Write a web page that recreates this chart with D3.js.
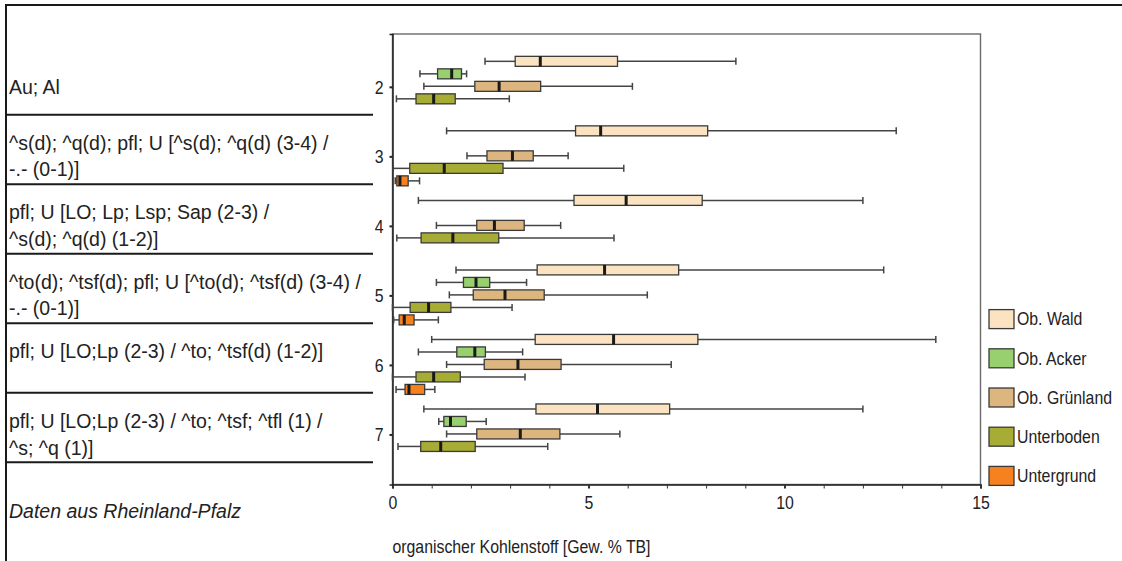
<!DOCTYPE html>
<html>
<head>
<meta charset="utf-8">
<script src="https://cdn.jsdelivr.net/npm/d3@7"></script>
<style>
  body { margin: 0; background: #fff; }
  svg { display: block; }
  text { font-family: "Liberation Sans", Arial, sans-serif; fill: #222; }
</style>
</head>
<body>
<svg id="chart" width="1122" height="561"></svg>
<script>
// Soil groups (rows) and land-use / horizon series
const categories = [2, 3, 4, 5, 6, 7];
const seriesNames = ["Ob. Wald", "Ob. Acker", "Ob. Grünland", "Unterboden", "Untergrund"];
const seriesColors = ["#fbe3c2", "#98cf6f", "#ddb57f", "#a7ac35", "#f5821f"];

// Five-number summaries per group: [min, Q1, median, Q3, max], null = no data
const waldStats = [
  [2.36, 3.13, 3.77, 5.74, 8.76],
  [1.38, 4.67, 5.31, 8.04, 12.85],
  [0.66, 4.63, 5.96, 7.90, 12.00],
  [1.62, 3.69, 5.41, 7.30, 12.53],
  [1.00, 3.64, 5.64, 7.79, 13.86],
  [0.80, 3.66, 5.23, 7.07, 12.00]
];
const ackerStats = [
  [0.70, 1.15, 1.51, 1.76, 1.89],
  null,
  null,
  [1.12, 1.81, 2.13, 2.48, 3.42],
  [0.66, 1.64, 2.10, 2.37, 3.32],
  [1.18, 1.31, 1.48, 1.88, 2.39]
];
const gruenlandStats = [
  [0.80, 2.10, 2.72, 3.78, 6.12],
  [1.90, 2.41, 3.06, 3.59, 4.48],
  [1.12, 2.15, 2.60, 3.36, 4.29],
  [1.45, 2.06, 2.87, 3.87, 6.50],
  [1.38, 2.34, 3.20, 4.30, 7.11],
  [1.38, 2.15, 3.26, 4.27, 5.80]
];
const unterbodenStats = [
  [0.10, 0.60, 1.05, 1.60, 2.98],
  [0.02, 0.44, 1.32, 2.82, 5.90],
  [0.11, 0.73, 1.54, 2.71, 5.65],
  [0.00, 0.45, 0.92, 1.49, 3.05],
  [0.00, 0.60, 1.05, 1.73, 3.38],
  [0.14, 0.72, 1.23, 2.11, 3.96]
];
const untergrundStats = [
  null,
  [0.07, 0.11, 0.19, 0.40, 0.69],
  null,
  [0.03, 0.17, 0.30, 0.55, 1.17],
  [0.09, 0.32, 0.42, 0.82, 1.08],
  null
];

// Substrate descriptions for each group (one entry per text line)
const rowLabels = [
  ["Au; Al"],
  ["^s(d); ^q(d); pfl; U [^s(d); ^q(d) (3-4) /", "-.- (0-1)]"],
  ["pfl; U [LO; Lp; Lsp; Sap (2-3) /", "^s(d); ^q(d) (1-2)]"],
  ["^to(d); ^tsf(d); pfl; U [^to(d); ^tsf(d) (3-4) /", "-.- (0-1)]"],
  ["pfl; U [LO;Lp (2-3) / ^to; ^tsf(d) (1-2)]", ""],
  ["pfl; U [LO;Lp (2-3) / ^to; ^tsf; ^tfl (1) /", "^s; ^q (1)]"]
];
const footnote = "Daten aus Rheinland-Pfalz";
const xTitle = "organischer Kohlenstoff [Gew. % TB]";
const xTickValues = d3.range(0, 16);
const xLabelValues = [0, 5, 10, 15];

const statsBySeries = [waldStats, ackerStats, gruenlandStats, unterbodenStats, untergrundStats];

const svg = d3.select("#chart");
const W = 1122, H = 561;
const narrow = 0.88;   // horizontal squeeze for plot captions
const capSize = 18;    // plot caption font size
const rowSize = 19.5;  // table text font size

// Scales
const x = d3.scaleLinear().domain([0, 15]).range([392.5, 980.5]);
const y = d3.scaleLinear().domain([1.24, 7.72]).range([34, 484.5]);
const slot = d3.scaleBand().domain(seriesNames).range([-30.5, 29.5]).paddingInner(0.2);
const color = d3.scaleOrdinal().domain(seriesNames).range(seriesColors);
const legendY = d3.scaleBand().domain(seriesNames).range([299.5, 495.5]);

// ---- left description table ----
const table = svg.append("g");
table.append("line").attr("x1", 6).attr("x2", W).attr("y1", 5).attr("y2", 5)
  .attr("stroke", "#1a1a1a").attr("stroke-width", 2);
table.append("line").attr("x1", 6).attr("x2", 6).attr("y1", 4).attr("y2", H)
  .attr("stroke", "#1a1a1a").attr("stroke-width", 2);
table.selectAll("line.sep").data(categories).join("line").attr("class", "sep")
  .attr("x1", 6).attr("x2", 373)
  .attr("y1", d => y(d + 0.4)).attr("y2", d => y(d + 0.4))
  .attr("stroke", "#1a1a1a").attr("stroke-width", 2);

const lineH = 26.5;
categories.forEach((c, i) => {
  const lines = rowLabels[i];
  const top = y(c) - (lines.length - 1) * lineH / 2;
  lines.forEach((t, k) => {
    table.append("text").attr("x", 9).attr("y", top + k * lineH).attr("dy", "0.35em")
      .attr("font-size", rowSize).text(t);
  });
});
table.append("text").attr("x", 9).attr("y", (y(7 + 0.4) + H) / 2).attr("dy", "0.35em")
  .attr("font-size", rowSize).attr("font-style", "italic").text(footnote);

// ---- plot frame ----
const plot = svg.append("g");
plot.append("rect")
  .attr("x", x(0)).attr("y", 34)
  .attr("width", x(15) - x(0)).attr("height", 484.5 - 34)
  .attr("fill", "none").attr("stroke", "#6a6a6a").attr("stroke-width", 1.4);

// x axis
const xAxis = plot.append("g").attr("transform", `translate(0,484.5)`)
  .call(d3.axisBottom(x).tickValues(xTickValues).tickSize(4)
    .tickFormat(d => xLabelValues.includes(d) ? d : ""));
xAxis.select(".domain").attr("stroke", "#222").attr("stroke-width", 1.5);
xAxis.selectAll(".tick line").attr("stroke", "#333").attr("stroke-width", d => xLabelValues.includes(d) ? 2 : 1);
xAxis.selectAll(".tick text")
  .attr("y", 0).attr("dy", 0)
  .attr("transform", `translate(0,24.5) scale(${narrow},1)`)
  .attr("font-size", capSize).attr("fill", "#222")
  .style("font-family", "'Liberation Sans', Arial, sans-serif");

// y axis
const yAxis = plot.append("g").attr("transform", `translate(${x(0)},0)`)
  .call(d3.axisLeft(y).tickValues(categories).tickSize(3).tickPadding(0).tickFormat(d3.format("d")));
yAxis.select(".domain").attr("stroke", "#222").attr("stroke-width", 1.5);
yAxis.selectAll(".tick line").attr("stroke", "#222").attr("stroke-width", 2);
yAxis.selectAll(".tick text")
  .attr("x", 0).attr("dy", "0.35em")
  .attr("transform", `translate(-9,0) scale(${narrow},1)`)
  .attr("font-size", capSize).attr("fill", "#222")
  .style("font-family", "'Liberation Sans', Arial, sans-serif");

// axis title
plot.append("text")
  .attr("transform", `translate(${x(0)},553) scale(${narrow},1)`)
  .attr("font-size", capSize).text(xTitle);

// ---- box plots ----
const boxes = [];
seriesNames.forEach((name, i) => {
  statsBySeries[i].forEach((s, j) => {
    if (!s) return;
    boxes.push({ name, cat: categories[j], min: s[0], q1: s[1], med: s[2], q3: s[3], max: s[4] });
  });
});

const bw = slot.bandwidth();
const bg = plot.selectAll("g.box").data(boxes).join("g").attr("class", "box")
  .attr("transform", d => `translate(0,${y(d.cat) + slot(d.name) + bw / 2})`);

const whiskerColor = "#444";
bg.append("line").attr("x1", d => x(d.min)).attr("x2", d => x(d.q1))
  .attr("stroke", whiskerColor).attr("stroke-width", 1.5);
bg.append("line").attr("x1", d => x(d.q3)).attr("x2", d => x(d.max))
  .attr("stroke", whiskerColor).attr("stroke-width", 1.5);
bg.append("line").attr("x1", d => x(d.min)).attr("x2", d => x(d.min))
  .attr("y1", -3.5).attr("y2", 3.5).attr("stroke", whiskerColor).attr("stroke-width", 1.5);
bg.append("line").attr("x1", d => x(d.max)).attr("x2", d => x(d.max))
  .attr("y1", -3.5).attr("y2", 3.5).attr("stroke", whiskerColor).attr("stroke-width", 1.5);
bg.append("rect")
  .attr("x", d => x(d.q1)).attr("y", -bw / 2)
  .attr("width", d => x(d.q3) - x(d.q1)).attr("height", bw)
  .attr("fill", d => color(d.name)).attr("stroke", "#3a3a3a").attr("stroke-width", 1.3);
bg.append("line").attr("x1", d => x(d.med)).attr("x2", d => x(d.med))
  .attr("y1", -bw / 2).attr("y2", bw / 2).attr("stroke", "#1a1a1a").attr("stroke-width", 3);

// ---- legend ----
const lg = svg.append("g").selectAll("g").data(seriesNames).join("g")
  .attr("transform", d => `translate(989,${legendY(d) + legendY.bandwidth() / 2})`);
lg.append("rect").attr("x", 0).attr("y", -9.5).attr("width", 25).attr("height", 19)
  .attr("fill", d => color(d)).attr("stroke", "#3a3a3a").attr("stroke-width", 1.3);
lg.append("text")
  .attr("transform", `translate(28,0) scale(${narrow},1)`)
  .attr("dy", "0.35em").attr("font-size", capSize).text(d => d);
</script>
</body>
</html>
